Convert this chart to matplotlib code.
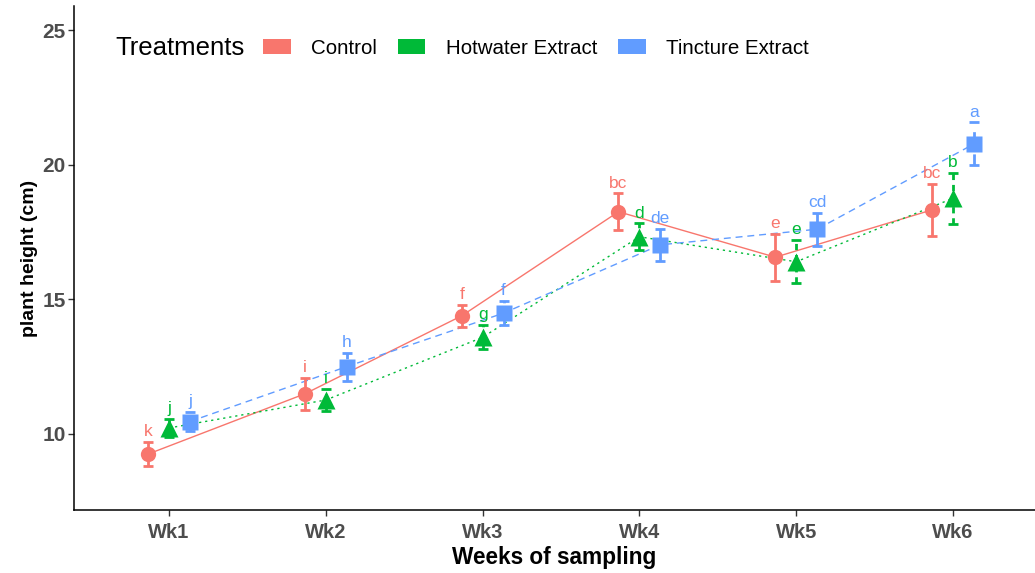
import matplotlib
matplotlib.use("Agg")
import matplotlib.pyplot as plt
import numpy as np
from matplotlib.patches import Patch

plt.rcParams["font.family"] = ["Liberation Sans", "DejaVu Sans"]
plt.rcParams["lines.scale_dashes"] = False

weeks = ["Wk1", "Wk2", "Wk3", "Wk4", "Wk5", "Wk6"]
treatments = ["Control", "Hotwater Extract", "Tincture Extract"]

control_mean = [9.25, 11.49, 14.39, 18.26, 16.57, 18.33]
control_se = [0.45, 0.60, 0.40, 0.68, 0.87, 0.98]
control_lab = ["k", "i", "f", "bc", "e", "bc"]

hotwater_mean = [10.22, 11.26, 13.59, 17.33, 16.40, 18.76]
hotwater_se = [0.35, 0.40, 0.45, 0.50, 0.80, 0.95]
hotwater_lab = ["j", "i", "g", "d", "e", "b"]

tincture_mean = [10.46, 12.50, 14.49, 17.03, 17.61, 20.78]
tincture_se = [0.35, 0.52, 0.45, 0.60, 0.62, 0.80]
tincture_lab = ["j", "h", "f", "de", "cd", "a"]

colors = ["#F8766D", "#00BA38", "#619CFF"]
markers = ["o", "^", "s"]
msizes = [11, 13, 12]
line_styles = ["-", (0, (1.6, 2.8)), (0, (5, 3.5))]
err_styles = ["-", (0, (4.5, 3.5)), (0, (8, 8))]

series = [
    (control_mean, control_se, control_lab),
    (hotwater_mean, hotwater_se, hotwater_lab),
    (tincture_mean, tincture_se, tincture_lab),
]

fig = plt.figure(figsize=(10.35, 5.73), dpi=100)
ax = fig.add_axes([74 / 1035, 63 / 573, 1 - 74 / 1035, (573 - 63 - 6) / 573])

x = np.arange(1, len(weeks) + 1)
dodge = 0.4 / 3
for i, (mean, se, lab) in enumerate(series):
    xi = x + (i - 1) * dodge
    ax.plot(xi, mean, color=colors[i], lw=1.0, linestyle=line_styles[i], zorder=2)
    ax.plot(xi, mean, linestyle="none", marker=markers[i], ms=msizes[i],
            color=colors[i], mec="none", zorder=3)
    eb = ax.errorbar(xi, mean, yerr=se, fmt="none", ecolor=colors[i],
                     elinewidth=2.0, capsize=3.8, capthick=2.0, zorder=4)
    eb[2][0].set_linestyle(err_styles[i])
    for xx, m, s, t in zip(xi, mean, se, lab):
        ax.annotate(t, (xx, m + s), xytext=(0, 2), textcoords="offset points",
                    ha="center", va="bottom", fontsize=12.5, color=colors[i],
                    zorder=5)

ax.set_xlim(0.394, 6.523)
ax.set_ylim(7.17, 25.91)
ax.set_xticks(x)
ax.set_xticklabels(weeks)
ax.set_yticks([10, 15, 20, 25])

for side in ["top", "right"]:
    ax.spines[side].set_visible(False)
for side in ["left", "bottom"]:
    ax.spines[side].set_linewidth(1.1)
    ax.spines[side].set_color("black")

ax.tick_params(axis="both", length=4, width=1.0, color="#333333",
               labelcolor="#4D4D4D")
ax.tick_params(axis="x", pad=5, labelsize=14.5)
ax.tick_params(axis="y", pad=2, labelsize=15)
for lbl in ax.get_xticklabels() + ax.get_yticklabels():
    lbl.set_fontweight("bold")

ax.set_xlabel("Weeks of sampling", fontsize=16.3, fontweight="bold", labelpad=3)
ax.set_ylabel("plant height (cm)", fontsize=14, fontweight="bold", labelpad=3)

fig.text(115 / 1035, 1 - 48 / 573, "Treatments", fontsize=18.5,
         ha="left", va="center")
handles = [Patch(facecolor=c, edgecolor="none") for c in colors]
fig.legend(handles, treatments, loc="center left",
           bbox_to_anchor=(263 / 1035, 1 - 48 / 573),
           bbox_transform=fig.transFigure, ncol=3, frameon=False,
           fontsize=14.8, handlelength=1.35, handleheight=0.75,
           handletextpad=1.0, columnspacing=1.0, borderpad=0,
           borderaxespad=0)

fig.savefig("out.png", dpi=100)
